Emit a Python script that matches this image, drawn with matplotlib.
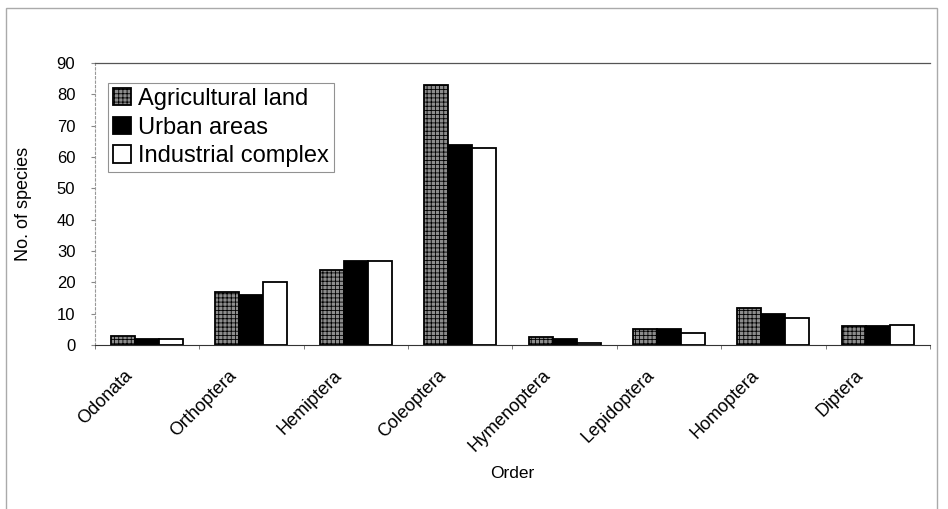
import numpy as np
import matplotlib.pyplot as plt
import matplotlib.transforms as mtransforms
from matplotlib.patches import Rectangle

orders = ["Odonata", "Orthoptera", "Hemiptera", "Coleoptera",
          "Hymenoptera", "Lepidoptera", "Homoptera", "Diptera"]
agricultural = [3, 17, 24, 83, 2.7, 5, 12, 6]
urban = [2, 16, 27, 64, 1.8, 5, 10, 6]
industrial = [2, 20, 27, 63, 0.6, 4, 8.5, 6.5]
series_names = ["Agricultural land", "Urban areas", "Industrial complex"]
y_ticks = [0, 10, 20, 30, 40, 50, 60, 70, 80, 90]

plt.rcParams["font.family"] = ["Liberation Sans", "DejaVu Sans"]
plt.rcParams["hatch.color"] = "#b5b5b5"
plt.rcParams["hatch.linewidth"] = 0.6

fig = plt.figure(figsize=(9.48, 5.09), dpi=100)
ax = fig.add_axes([0.100, 0.322, 0.881, 0.554])

x = np.arange(len(orders))
width = 0.23
styles = [
    dict(facecolor="#8c8c8c", edgecolor="black", hatch="++++"),
    dict(facecolor="black", edgecolor="black"),
    dict(facecolor="white", edgecolor="black"),
]
for offset, values, name, style in zip((-width, 0, width),
                                       (agricultural, urban, industrial),
                                       series_names, styles):
    ax.bar(x + offset, values, width, label=name, linewidth=1.3, **style)

ax.set_xlim(-0.5, len(orders) - 0.5)
ax.set_ylim(0, 90)
ax.set_yticks(y_ticks)
ax.tick_params(axis="y", labelsize=12, length=3, color="#888888", pad=11)
ax.set_xticks(x)
ax.set_xticklabels(orders, rotation=45, ha="right", va="center",
                   rotation_mode="anchor", fontsize=13)
ax.tick_params(axis="x", length=0, pad=0)
# move each rotated label so its end sits just left of and below the group
shift = mtransforms.ScaledTranslation(-0.17, -0.28, fig.dpi_scale_trans)
for label in ax.get_xticklabels():
    label.set_transform(label.get_transform() + shift)
ax.set_xticks(np.arange(len(orders) + 1) - 0.5, minor=True)
ax.tick_params(axis="x", which="minor", length=3, color="#666666")

ax.spines["right"].set_visible(False)
ax.spines["left"].set_color("#999999")
ax.spines["left"].set_linestyle((0, (2, 2)))
ax.spines["top"].set_color("#555555")
ax.spines["top"].set_linewidth(0.9)
ax.spines["bottom"].set_color("#333333")

ax.set_ylabel("No. of species", fontsize=13, labelpad=18)
ax.set_xlabel("Order", fontsize=12.5)
ax.xaxis.set_label_coords(0.5, -0.43)

legend = ax.legend(loc="upper left", bbox_to_anchor=(0.016, 0.93), fontsize=17,
                   frameon=True, fancybox=False, edgecolor="#777777",
                   handlelength=0.75, handleheight=0.75, handletextpad=0.3,
                   labelspacing=0.28, borderpad=0.22, borderaxespad=0)
legend.get_frame().set_linewidth(0.8)

fig.patches.append(Rectangle((0.006, -0.01), 0.982, 0.995, transform=fig.transFigure,
                             fill=False, edgecolor="#aaaaaa", linewidth=1.0))

fig.savefig("out.png", dpi=100)
